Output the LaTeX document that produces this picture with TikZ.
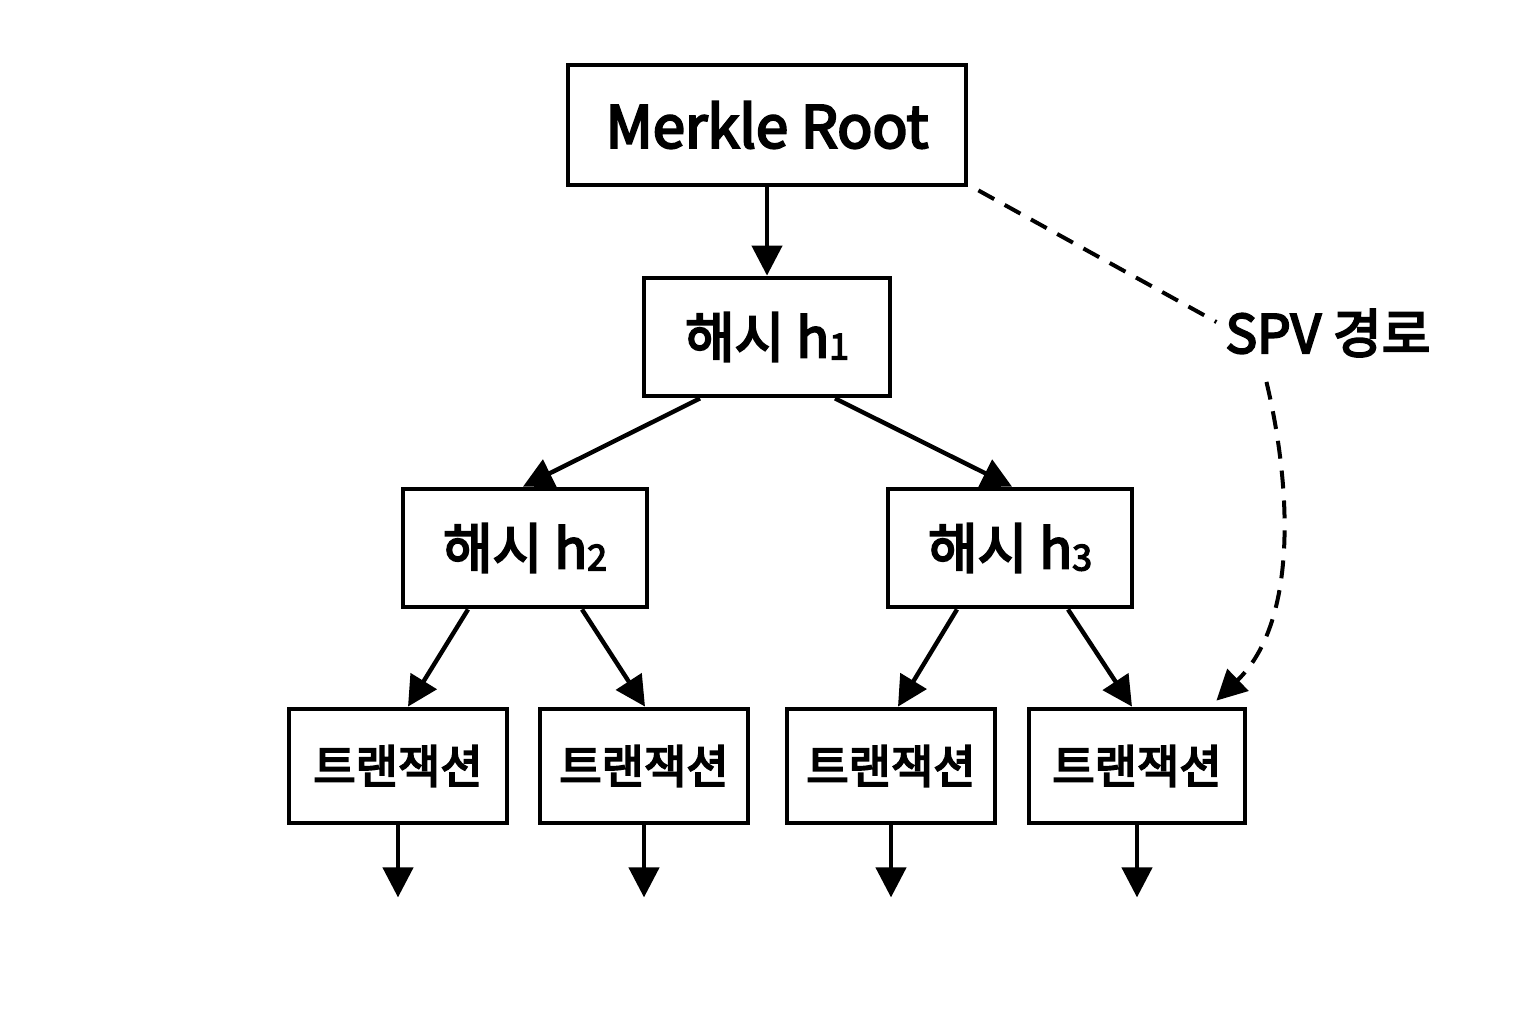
\documentclass[tikz,border=0pt]{standalone}
\usepackage{fontspec}
\setmainfont{Noto Sans CJK KR}[BoldFont={Noto Sans CJK KR}, BoldFeatures={FakeBold=4}]
\usepackage{tikz}
\usetikzlibrary{arrows.meta,calc}

\newcommand{\hsub}[1]{\raisebox{-0.04em}{\scalebox{0.66}{#1}}}

\begin{document}
\begin{tikzpicture}[x=0.5pt, y=-0.5pt]
\tikzset{box/.style = {draw, line width=2.4pt, inner sep=0pt, font=\bfseries\fontsize{27}{30}\selectfont}}
    \tikzset{link/.style = {line width=2.2pt, -{Triangle[length=15pt, width=15pt]}}}
    \tikzset{spvline/.style = {line width=2pt, dash pattern=on 9pt off 6pt}}
\useasboundingbox (0,0) rectangle (1536,1024);
% tree of hashes
\node[box, minimum width=199pt, minimum height=60pt, font=\bfseries\fontsize{29}{32}\selectfont] (root) at (767,125){Merkle Root};
\node[box, minimum width=123pt, minimum height=59pt] (h1) at (767,337){해시 h\hsub{1}};
\node[box, minimum width=122pt, minimum height=59pt] (h2) at (525,548){해시 h\hsub{2}};
\node[box, minimum width=122pt, minimum height=59pt] (h3) at (1010,548){해시 h\hsub{3}};
% transactions
\node[box, minimum width=109pt, minimum height=57pt, font=\bfseries\fontsize{23}{27}\selectfont] (t1) at (398,766){트랜잭션};
\node[box, minimum width=104pt, minimum height=57pt, font=\bfseries\fontsize{23}{27}\selectfont] (t2) at (644,766){트랜잭션};
\node[box, minimum width=104pt, minimum height=57pt, font=\bfseries\fontsize{23}{27}\selectfont] (t3) at (891,766){트랜잭션};
\node[box, minimum width=108pt, minimum height=57pt, font=\bfseries\fontsize{23}{27}\selectfont] (t4) at (1137,766){트랜잭션};
\node[font=\bfseries\fontsize{26.5}{29}\selectfont] (spv) at (1328,333){SPV 경로};

% Draw the tree edges
\draw[link] (root.south) -- (h1.north);
\draw[link] ($(h1.south)+(-67,0)$) -- ($(h2.north)+(-2,0)$);
\draw[link] ($(h1.south)+(68,0)$) -- ($(h3.north)+(2,0)$);
\draw[link] ($(h2.south)+(-57,0)$) -- ($(t1.north)+(10,0)$);
\draw[link] ($(h2.south)+(57,0)$) -- ($(t2.north)+(1,0)$);
\draw[link] ($(h3.south)+(-53,0)$) -- ($(t3.north)+(7,0)$);
\draw[link] ($(h3.south)+(58,0)$) -- ($(t4.north)+(-5,0)$);
\foreach \t in {t1,t2,t3,t4}{
    \coordinate (\t end) at ($(\t.south)+(0,72)$);
    \draw[link] (\t.south) -- (\t end);
}

% SPV path
\coordinate (spvA) at ($(root.south east)+(10,3)$);
\coordinate (spvB) at ($(spv.west)+(-2,-11)$);
\coordinate (spvC) at ($(spv.south west)+(48,18)$);
\coordinate (spvD) at ($(t4.north east)+(-31,-6)$);
\draw[spvline] (spvA) -- (spvB);
\draw[spvline, -{Triangle[length=15pt, width=15pt]}] (spvC) .. controls (1290,480) and (1300,620) .. (spvD);
\end{tikzpicture}
\end{document}
